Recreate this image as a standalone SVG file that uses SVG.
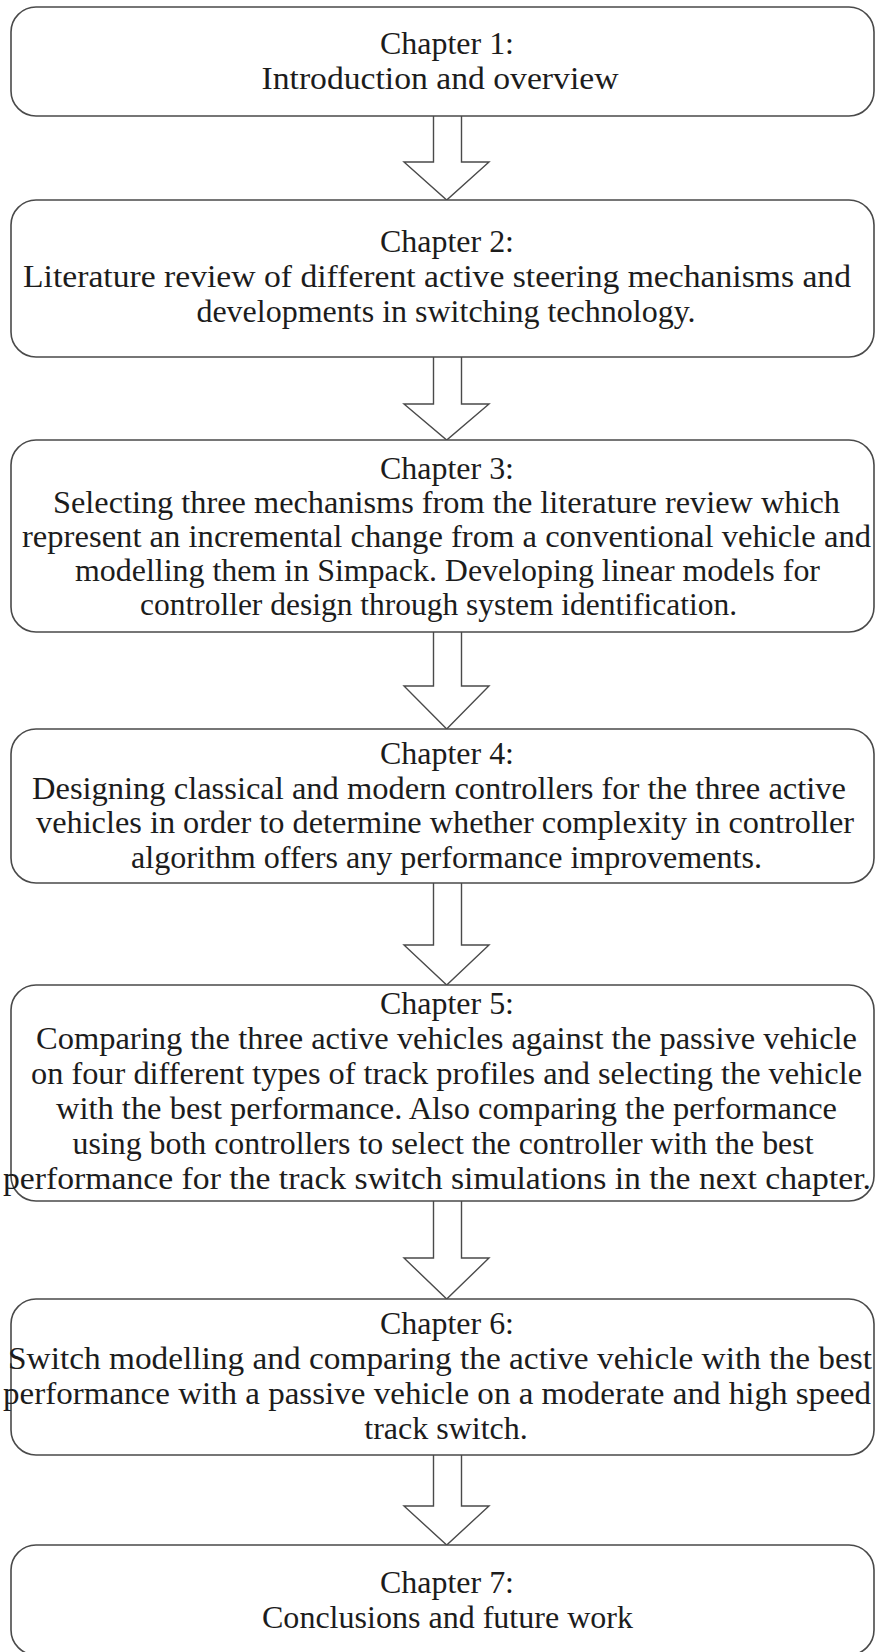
<svg xmlns="http://www.w3.org/2000/svg" width="875" height="1652" viewBox="0 0 875 1652">
<style>
.box{fill:#fff;stroke:#4a4a4a;stroke-width:1.6}
.arr{fill:#fff;stroke:#4a4a4a;stroke-width:1.4;stroke-linejoin:miter}
text{font-family:"Liberation Serif","Times New Roman",serif;font-size:32px;fill:#1c1c1c;text-anchor:middle}
</style>
<rect width="875" height="1652" fill="#fff"/>
<g id="connectors">
<path class="arr" d="M433.5,116 V162 H404 L446.7,200 L489,162 H461.5 V116"/>
<path class="arr" d="M433.5,357 V404 H404 L446.7,440 L489,404 H461.5 V357"/>
<path class="arr" d="M433.5,632 V686 H404 L446.7,729 L489,686 H461.5 V632"/>
<path class="arr" d="M433.5,883 V945 H404 L446.7,985 L489,945 H461.5 V883"/>
<path class="arr" d="M433.5,1201 V1258 H404 L446.7,1299 L489,1258 H461.5 V1201"/>
<path class="arr" d="M433.5,1455 V1506 H404 L446.7,1545 L489,1506 H461.5 V1455"/>
</g>
<g id="ch1">
<rect class="box" x="11" y="7" width="863" height="109" rx="25"/>
<text x="447" y="54" textLength="134" lengthAdjust="spacingAndGlyphs">Chapter 1:</text>
<text x="440" y="89" textLength="357" lengthAdjust="spacingAndGlyphs">Introduction and overview</text>
</g>
<g id="ch2">
<rect class="box" x="11" y="200" width="863" height="157" rx="25"/>
<text x="447" y="252" textLength="134" lengthAdjust="spacingAndGlyphs">Chapter 2:</text>
<text x="437" y="287" textLength="828" lengthAdjust="spacingAndGlyphs">Literature review of different active steering mechanisms and</text>
<text x="446" y="322">developments in switching technology.</text>
</g>
<g id="ch3">
<rect class="box" x="11" y="440" width="863" height="192" rx="25"/>
<text x="447" y="479" textLength="134" lengthAdjust="spacingAndGlyphs">Chapter 3:</text>
<text x="446.5" y="513" textLength="787" lengthAdjust="spacingAndGlyphs">Selecting three mechanisms from the literature review which</text>
<text x="446.5" y="547" textLength="849" lengthAdjust="spacingAndGlyphs">represent an incremental change from a conventional vehicle and</text>
<text x="447.5" y="581" textLength="745" lengthAdjust="spacingAndGlyphs">modelling them in Simpack. Developing linear models for</text>
<text x="438.5" y="615" textLength="597" lengthAdjust="spacingAndGlyphs">controller design through system identification.</text>
</g>
<g id="ch4">
<rect class="box" x="11" y="729" width="863" height="154" rx="25"/>
<text x="447" y="764" textLength="134" lengthAdjust="spacingAndGlyphs">Chapter 4:</text>
<text x="439" y="799" textLength="814" lengthAdjust="spacingAndGlyphs">Designing classical and modern controllers for the three active</text>
<text x="445" y="833" textLength="818" lengthAdjust="spacingAndGlyphs">vehicles in order to determine whether complexity in controller</text>
<text x="446.5" y="868" textLength="631" lengthAdjust="spacingAndGlyphs">algorithm offers any performance improvements.</text>
</g>
<g id="ch5">
<rect class="box" x="11" y="985" width="863" height="216" rx="25"/>
<text x="447" y="1014" textLength="134" lengthAdjust="spacingAndGlyphs">Chapter 5:</text>
<text x="446.5" y="1049" textLength="821" lengthAdjust="spacingAndGlyphs">Comparing the three active vehicles against the passive vehicle</text>
<text x="446.5" y="1084" textLength="831" lengthAdjust="spacingAndGlyphs">on four different types of track profiles and selecting the vehicle</text>
<text x="446.5" y="1119" textLength="781" lengthAdjust="spacingAndGlyphs">with the best performance. Also comparing the performance</text>
<text x="443" y="1154" textLength="741" lengthAdjust="spacingAndGlyphs">using both controllers to select the controller with the best</text>
<text x="437" y="1189" textLength="868" lengthAdjust="spacingAndGlyphs">performance for the track switch simulations in the next chapter.</text>
</g>
<g id="ch6">
<rect class="box" x="11" y="1299" width="863" height="156" rx="25"/>
<text x="447" y="1334" textLength="134" lengthAdjust="spacingAndGlyphs">Chapter 6:</text>
<text x="440" y="1369" textLength="864" lengthAdjust="spacingAndGlyphs">Switch modelling and comparing the active vehicle with the best</text>
<text x="437" y="1404" textLength="868" lengthAdjust="spacingAndGlyphs">performance with a passive vehicle on a moderate and high speed</text>
<text x="446" y="1439">track switch.</text>
</g>
<g id="ch7">
<rect class="box" x="11" y="1545" width="863" height="110" rx="25"/>
<text x="447" y="1593" textLength="134" lengthAdjust="spacingAndGlyphs">Chapter 7:</text>
<text x="447.5" y="1628" textLength="371" lengthAdjust="spacingAndGlyphs">Conclusions and future work</text>
</g>
</svg>
